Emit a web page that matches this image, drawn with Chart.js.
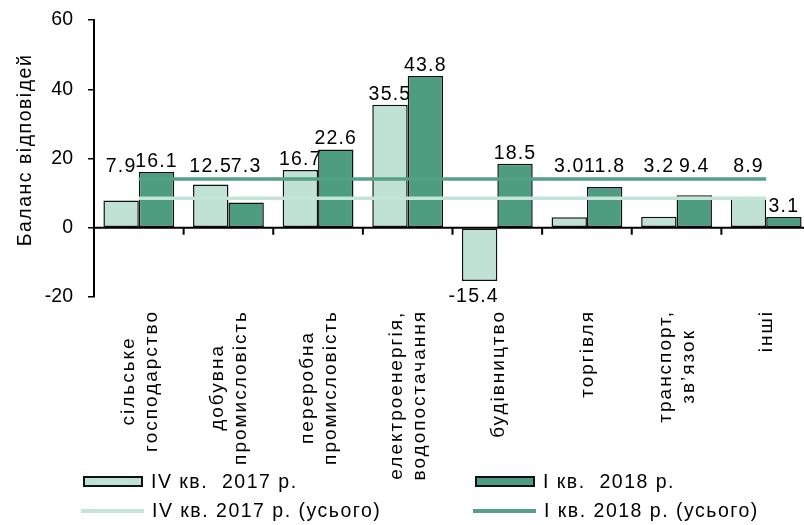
<!DOCTYPE html>
<html>
<head>
<meta charset="utf-8">
<script src="https://cdn.jsdelivr.net/npm/chart.js@4"></script>
<style>
    html, body { margin: 0; padding: 0; background: #fff; overflow: hidden; }
    #wrap { position: relative; width: 804px; height: 525px; overflow: hidden; }
    #chart { position: absolute; left: 0; top: 0; }
    .lg { position: absolute; display: flex; align-items: center; white-space: pre;
          font: 19.5px "Liberation Sans", Arial, sans-serif; letter-spacing: 1.5px; color: #000; }
    .sw { box-sizing: border-box; margin-right: 8px; }
</style>
</head>
<body>
<div id="wrap">
    <canvas id="chart" width="811" height="525"></canvas>
    <div id="legend"></div>
</div>
<script>
const categories = [
    ['сільське', 'господарство'],
    ['добувна', 'промисловість'],
    ['переробна', 'промисловість'],
    ['електроенергія,', 'водопостачання'],
    ['будівництво'],
    ['торгівля'],
    ['транспорт,', 'зв’язок'],
    ['інші']
];
const q4_2017 = [7.9, 12.5, 16.7, 35.5, -15.4, 3.0, 3.2, 8.9];
const q1_2018 = [16.1, 7.3, 22.6, 43.8, 18.5, 11.8, 9.4, 3.1];
const total_q4_2017 = [8.5, 8.5, 8.5, 8.5, 8.5, 8.5, 8.5, 8.5];
const total_q1_2018 = [14.1, 14.1, 14.1, 14.1, 14.1, 14.1, 14.1, 14.1];
const seriesNames = ['IV кв.  2017 р.', 'І кв.  2018 р.', 'IV кв. 2017 р. (усього)', 'І кв. 2018 р. (усього)'];
const yTitle = 'Баланс відповідей';

const FONT = '"Liberation Sans", Arial, sans-serif';
const light = '#c0e2d5';
const dark = '#4f9d81';
const lightLine = '#c3e4d7';
const darkLine = '#54a186';

// zero line, category ticks, value labels, category names, y title
const decor = {
    id: 'decor',
    afterDatasetsDraw(chart) {
        const c = chart.ctx;
        const x = chart.scales.x, y = chart.scales.y, area = chart.chartArea;
        const y0 = y.getPixelForValue(0);
        c.save();
        c.strokeStyle = '#000';
        c.lineWidth = 2;
        c.beginPath();
        c.moveTo(area.left, y0);
        c.lineTo(area.right, y0);
        for (let i = 1; i < categories.length; i++) {
            const xb = (x.getPixelForValue(i - 1) + x.getPixelForValue(i)) / 2;
            c.moveTo(xb, y0);
            c.lineTo(xb, y0 + 7);
        }
        c.stroke();

        // value labels: sit above the bar, or above the total lines where they cross
        const lineMeta = chart.getDatasetMeta(3).data;
        const spanL = lineMeta[0].x - 20, spanR = lineMeta[lineMeta.length - 1].x;
        const lineTop = Math.min(chart.getDatasetMeta(2).data[0].y, lineMeta[0].y) - 2;
        c.font = '19.5px ' + FONT;
        c.letterSpacing = '1.2px';
        c.fillStyle = '#000';
        c.textAlign = 'center';
        [0, 1].forEach(d => {
            const vals = chart.data.datasets[d].data;
            chart.getDatasetMeta(d).data.forEach((bar, j) => {
                const v = vals[j];
                const txt = v.toFixed(1);
                if (v >= 0) {
                    let top = bar.y;
                    if (bar.x >= spanL && bar.x <= spanR) top = Math.min(top, lineTop);
                    c.textBaseline = 'alphabetic';
                    c.fillText(txt, bar.x, top - 5);
                } else {
                    c.textBaseline = 'top';
                    c.fillText(txt, bar.x - 6, bar.y + 6);
                }
            });
        });
        c.restore();
    },
    afterDraw(chart) {
        const c = chart.ctx;
        const x = chart.scales.x, area = chart.chartArea;
        c.save();
        c.fillStyle = '#000';
        c.font = '19px ' + FONT;
        c.letterSpacing = '2px';
        c.textAlign = 'center';
        c.textBaseline = 'middle';
        categories.forEach((lines, i) => {
            const maxW = Math.max(...lines.map(t => c.measureText(t).width));
            c.save();
            c.translate(x.getPixelForValue(i) + 1, 310 + maxW / 2);
            c.rotate(-Math.PI / 2);
            lines.forEach((t, j) => c.fillText(t, 0, (j - (lines.length - 1) / 2) * 23));
            c.restore();
        });
        // y axis title
        c.font = '19.5px ' + FONT;
        c.letterSpacing = '1.5px';
        c.translate(26, 150);
        c.rotate(-Math.PI / 2);
        c.fillText(yTitle, 0, 0);
        c.restore();
    }
};

const ctx = document.getElementById("chart").getContext("2d");

const myChart = new Chart(ctx, {
    type: 'bar',
    data: {
        labels: categories,
        datasets: [
            {
                label: seriesNames[0],
                data: q4_2017,
                backgroundColor: light,
                borderColor: '#111',
                borderWidth: 1.5,
                borderSkipped: false,
                barPercentage: 1,
                categoryPercentage: 0.79,
                order: 2
            },
            {
                label: seriesNames[1],
                data: q1_2018,
                backgroundColor: dark,
                borderColor: '#111',
                borderWidth: 1.5,
                borderSkipped: false,
                barPercentage: 1,
                categoryPercentage: 0.79,
                order: 2
            },
            {
                type: 'line',
                label: seriesNames[2],
                data: total_q4_2017,
                borderColor: lightLine,
                borderWidth: 3.5,
                pointRadius: 0,
                fill: false,
                order: 0
            },
            {
                type: 'line',
                label: seriesNames[3],
                data: total_q1_2018,
                borderColor: darkLine,
                borderWidth: 3.5,
                pointRadius: 0,
                fill: false,
                order: 0
            }
        ]
    },
    options: {
        responsive: false,
        animation: false,
        layout: { padding: { top: 20, bottom: 228, left: 0, right: 0 } },
        scales: {
            x: { display: false },
            y: {
                min: -20,
                max: 60,
                ticks: { stepSize: 20, padding: 15, color: '#000', font: { size: 19.5, family: FONT } },
                grid: { drawOnChartArea: false, tickLength: 6, color: '#000', lineWidth: 1.5 },
                border: { color: '#000', width: 2 },
                afterFit(scale) {
                    scale.width = 94;
                    scale.paddingTop = 0;
                    scale.paddingBottom = 0;
                }
            }
        },
        plugins: {
            legend: { display: false },
            tooltip: { enabled: false }
        }
    },
    plugins: [decor]
});

// legend, 2 x 2, built from the datasets
const legend = document.getElementById('legend');
myChart.data.datasets.forEach((ds, i) => {
    const col = i % 2, row = Math.floor(i / 2);
    const item = document.createElement('div');
    item.className = 'lg';
    item.style.left = (81 + col * 392) + 'px';
    item.style.top = (row === 0 ? 470 : 499) + 'px';
    const sw = document.createElement('div');
    sw.className = 'sw';
    if (ds.type === 'line') {
        sw.style.width = '63px';
        sw.style.height = '4px';
        sw.style.background = ds.borderColor;
    } else {
        sw.style.width = '60px';
        sw.style.height = '11px';
        sw.style.marginLeft = '2px';
        sw.style.background = ds.backgroundColor;
        sw.style.border = '2px solid #111';
    }
    const tx = document.createElement('span');
    tx.textContent = ds.label;
    item.appendChild(sw);
    item.appendChild(tx);
    legend.appendChild(item);
});
</script>
</body>
</html>
